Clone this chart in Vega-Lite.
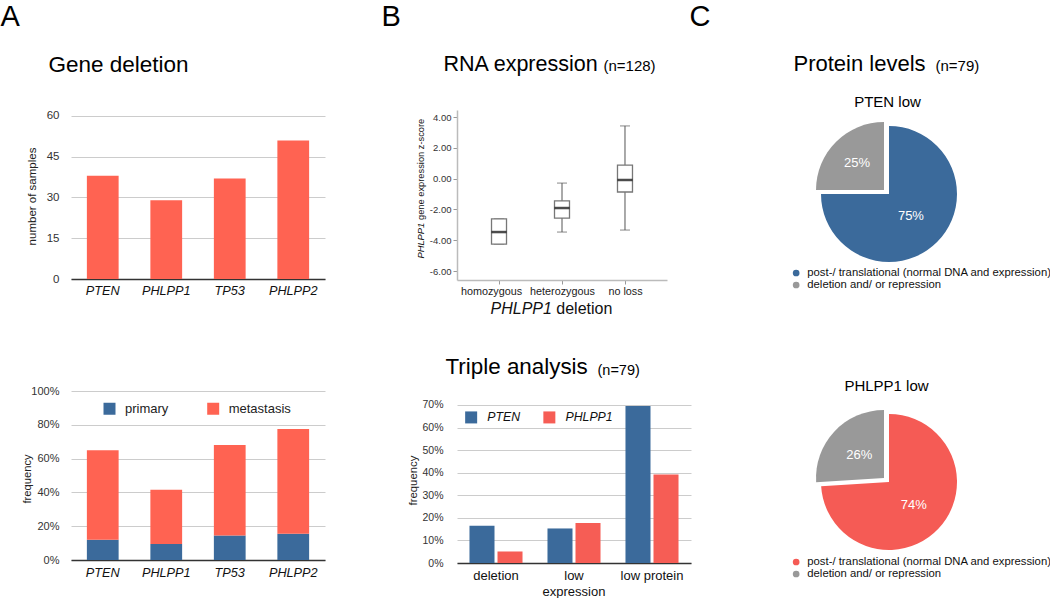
{
  "$schema": "https://vega.github.io/schema/vega-lite/v6.json",
  "autosize": "none",
  "padding": {"left": 71, "top": 110, "right": 979, "bottom": 488},
  "background": "white",
  "config": {
    "font": "Liberation Sans",
    "view": {"stroke": null},
    "axis": {"titleFontWeight": "normal", "titleLimit": 1000, "labelLimit": 300},
    "legend": {"labelLimit": 400}
  },
  "columns": 3,
  "spacing": {"row": 111, "column": 132},
  "bounds": "flush",
  "align": "each",
  "resolve": {
    "scale": {"color": "independent", "theta": "independent", "opacity": "independent"},
    "legend": {"color": "independent"}
  },
  "concat": [
    {
      "width": 254,
      "height": 169,
      "data": {"values": [
        {"gene": "PTEN", "n": 38},
        {"gene": "PHLPP1", "n": 29},
        {"gene": "TP53", "n": 37},
        {"gene": "PHLPP2", "n": 51}
      ]},
      "resolve": {"axis": {"x": "independent", "y": "independent"}},
      "layer": [
        {
          "mark": {"type": "bar", "color": "#FF6352"},
          "encoding": {
            "x": {"field": "gene", "type": "nominal", "sort": null,
              "scale": {"paddingInner": 0.5, "paddingOuter": 0.25},
              "axis": {"orient": "bottom", "title": null, "labelAngle": 0, "labelFontStyle": "italic", "labelFontSize": 12.7, "labelColor": "#111", "labelPadding": 5.5, "ticks": false, "tickSize": 0, "domain": true, "domainColor": "#333", "domainWidth": 1.5, "grid": false}},
            "y": {"field": "n", "type": "quantitative",
              "scale": {"domain": [0, 62.2], "nice": false},
              "axis": {"orient": "left", "values": [0, 15, 30, 45, 60], "grid": true, "gridColor": "#cccccc", "domain": false, "ticks": false, "tickSize": 0, "labelPadding": 12, "labelFontSize": 11.5, "labelColor": "#333", "title": "number of samples", "titleFontSize": 11.5, "titleColor": "#222", "titleX": -39, "titleY": 86, "titleAngle": -90, "titleAlign": "center", "titleBaseline": "middle"}}
          }
        },
        {
          "mark": {"type": "bar", "opacity": 0},
          "encoding": {
            "x": {"field": "gene", "type": "nominal", "sort": null,
              "axis": {"orient": "top", "title": "A", "titleX": -71, "titleY": -85, "titleFontSize": 29, "titleAngle": 0, "titleAlign": "left", "titleBaseline": "alphabetic", "titleColor": "#000", "labels": false, "ticks": false, "domain": false, "grid": false}},
            "y": {"field": "n", "type": "quantitative",
              "axis": {"orient": "right", "title": "Gene deletion", "titleX": -277, "titleY": -39, "titleFontSize": 22.5, "titleAngle": 0, "titleAlign": "left", "titleBaseline": "alphabetic", "titleColor": "#000", "labels": false, "ticks": false, "domain": false, "grid": false}}
          }
        }
      ]
    },
    {
      "width": 210,
      "height": 170,
      "data": {"values": [
        {"g": "homozygous", "lo": -4.25, "q1": -4.25, "med": -3.47, "q3": -2.62, "hi": -2.62},
        {"g": "heterozygous", "lo": -3.47, "q1": -2.56, "med": -1.91, "q3": -1.45, "hi": -0.29},
        {"g": "no loss", "lo": -3.34, "q1": -0.87, "med": -0.09, "q3": 0.88, "hi": 3.42}
      ]},
      "resolve": {"axis": {"x": "independent", "y": "independent"}},
      "layer": [
        {
          "mark": {"type": "rule", "color": "#555", "strokeWidth": 1},
          "encoding": {
            "x": {"field": "g", "type": "nominal", "sort": null,
              "scale": {"type": "point", "padding": 0.667},
              "axis": {"orient": "bottom", "labelAngle": 0, "labelFontSize": 10.8, "labelColor": "#222", "ticks": true, "tickSize": 4, "tickColor": "#999", "labelPadding": 1, "domain": true, "domainColor": "#bbb", "domainWidth": 1.5, "grid": false,
                "labelOffset": {"condition": {"test": "datum.value === 'homozygous'", "value": -8}, "value": 0},
                "title": "PHLPP1", "titleFontStyle": "italic", "titleFontSize": 16, "titleColor": "#111", "titleX": 33, "titleY": 33, "titleAngle": 0, "titleAlign": "left", "titleBaseline": "alphabetic"}},
            "y": {"field": "lo", "type": "quantitative",
              "scale": {"domain": [-6.584, 4.455], "nice": false, "zero": false},
              "axis": {"orient": "left", "values": [-6, -4, -2, 0, 2, 4], "format": ".2f", "labelExpr": "replace(datum.label, '−', '-')", "labelFontSize": 9.5, "labelColor": "#333", "ticks": true, "tickSize": 4, "tickColor": "#999", "labelPadding": 2, "domain": true, "domainColor": "#bbb", "domainWidth": 1.5, "grid": false,
                "title": "PHLPP1", "titleFontStyle": "italic", "titleFontSize": 9.3, "titleColor": "#111", "titleX": -37, "titleY": 148, "titleAngle": -90, "titleAlign": "left", "titleBaseline": "middle"}},
            "y2": {"field": "hi"}
          }
        },
        {
          "mark": {"type": "tick", "size": 10, "thickness": 1, "color": "#555"},
          "encoding": {
            "x": {"field": "g", "type": "nominal", "sort": null,
              "axis": {"orient": "bottom", "title": "deletion", "titleX": 98.8, "titleY": 33, "titleFontSize": 16, "titleAngle": 0, "titleAlign": "left", "titleBaseline": "alphabetic", "titleColor": "#111", "labels": false, "ticks": false, "domain": false, "grid": false}},
            "y": {"field": "lo", "type": "quantitative",
              "axis": {"orient": "right", "title": "B", "titleX": -286, "titleY": -85, "titleFontSize": 29, "titleAngle": 0, "titleAlign": "left", "titleBaseline": "alphabetic", "titleColor": "#000", "labels": false, "ticks": false, "domain": false, "grid": false}}
          }
        },
        {
          "mark": {"type": "tick", "size": 10, "thickness": 1, "color": "#555"},
          "encoding": {
            "x": {"field": "g", "type": "nominal", "sort": null,
              "axis": {"orient": "top", "title": "RNA expression", "titleX": -14, "titleY": -40, "titleFontSize": 21.5, "titleAngle": 0, "titleAlign": "left", "titleBaseline": "alphabetic", "titleColor": "#000", "labels": false, "ticks": false, "domain": false, "grid": false}},
            "y": {"field": "hi", "type": "quantitative",
              "axis": {"orient": "right", "title": "(n=128)", "titleX": -64, "titleY": -40, "titleFontSize": 15, "titleAngle": 0, "titleAlign": "left", "titleBaseline": "alphabetic", "titleColor": "#000", "labels": false, "ticks": false, "domain": false, "grid": false}}
          }
        },
        {
          "mark": {"type": "bar", "width": 15, "fill": "white", "stroke": "#777", "strokeWidth": 1.3},
          "encoding": {
            "x": {"field": "g", "type": "nominal", "sort": null, "axis": null},
            "y": {"field": "q1", "type": "quantitative",
              "axis": {"orient": "left", "title": "gene expression z-score", "titleX": -37, "titleY": 109.5, "titleFontSize": 9.3, "titleAngle": -90, "titleAlign": "left", "titleBaseline": "middle", "titleColor": "#111", "labels": false, "ticks": false, "domain": false, "grid": false}},
            "y2": {"field": "q3"}
          }
        },
        {
          "mark": {"type": "tick", "size": 15, "thickness": 2.5, "color": "#000"},
          "encoding": {
            "x": {"field": "g", "type": "nominal", "sort": null, "axis": null},
            "y": {"field": "med", "type": "quantitative", "axis": null}
          }
        }
      ]
    },
    {
      "width": 132,
      "height": 168,
      "data": {"values": [
        {"cat": "post-/ translational (normal DNA and expression)", "pct": 75, "lab": "75%"},
        {"cat": "deletion and/ or repression", "pct": 25, "lab": "25%"}
      ]},
      "resolve": {"axis": {"x": "independent", "y": "independent"}},
      "layer": [
        {
          "mark": {"type": "arc", "radius": 68},
          "encoding": {
            "theta": {"field": "pct", "type": "quantitative", "stack": true},
            "order": {"field": "pct", "sort": "descending"},
            "color": {"field": "cat", "type": "nominal",
              "scale": {"domain": ["post-/ translational (normal DNA and expression)", "deletion and/ or repression"], "range": ["#3B6A9B", "#999999"]},
              "legend": {"orient": "none", "legendX": -32.5, "legendY": 159, "title": null, "symbolType": "circle", "symbolSize": 45, "symbolStrokeWidth": 0, "labelFontSize": 11.3, "labelColor": "#111", "clipHeight": 8, "rowPadding": 0, "labelOffset": 5.5, "padding": 0, "labelLimit": 400}},
            "opacity": {"condition": {"test": "datum.pct < 50", "value": 0}, "value": 1}
          }
        },
        {
          "mark": {"type": "arc", "radius": 68, "xOffset": -5, "yOffset": -4},
          "encoding": {
            "theta": {"field": "pct", "type": "quantitative", "stack": true},
            "order": {"field": "pct", "sort": "descending"},
            "color": {"field": "cat", "type": "nominal", "legend": null},
            "opacity": {"condition": {"test": "datum.pct < 50", "value": 1}, "value": 0}
          }
        },
        {
          "mark": {"type": "text", "radius": 31, "color": "white", "fontSize": 13},
          "encoding": {
            "theta": {"field": "pct", "type": "quantitative", "stack": true},
            "order": {"field": "pct", "sort": "descending"},
            "text": {"field": "lab"},
            "opacity": {"condition": {"test": "datum.pct < 50", "value": 0}, "value": 1}
          }
        },
        {
          "mark": {"type": "text", "radius": 38, "color": "white", "fontSize": 13, "xOffset": -5, "yOffset": -4},
          "encoding": {
            "theta": {"field": "pct", "type": "quantitative", "stack": true},
            "order": {"field": "pct", "sort": "descending"},
            "text": {"field": "lab"},
            "opacity": {"condition": {"test": "datum.pct < 50", "value": 1}, "value": 0}
          }
        },
        {
          "mark": {"type": "point", "opacity": 0},
          "encoding": {
            "x": {"field": "cat", "type": "nominal",
              "axis": {"orient": "top", "title": "C", "titleX": -134, "titleY": -85, "titleFontSize": 29, "titleAngle": 0, "titleAlign": "left", "titleBaseline": "alphabetic", "titleColor": "#000", "labels": false, "ticks": false, "domain": false, "grid": false}},
            "y": {"field": "lab", "type": "nominal",
              "axis": {"orient": "right", "title": "Protein levels", "titleX": -162, "titleY": -40, "titleFontSize": 22, "titleAngle": 0, "titleAlign": "left", "titleBaseline": "alphabetic", "titleColor": "#000", "labels": false, "ticks": false, "domain": false, "grid": false}}
          }
        },
        {
          "mark": {"type": "point", "opacity": 0},
          "encoding": {
            "x": {"field": "cat", "type": "nominal",
              "axis": {"orient": "top", "title": "(n=79)", "titleX": 112, "titleY": -40, "titleFontSize": 15, "titleAngle": 0, "titleAlign": "left", "titleBaseline": "alphabetic", "titleColor": "#000", "labels": false, "ticks": false, "domain": false, "grid": false}},
            "y": {"field": "lab", "type": "nominal",
              "axis": {"orient": "right", "title": "PTEN low", "titleX": -68, "titleY": -9, "titleFontSize": 15, "titleAngle": 0, "titleAlign": "center", "titleBaseline": "middle", "titleColor": "#000", "labels": false, "ticks": false, "domain": false, "grid": false}}
          }
        }
      ]
    },
    {
      "width": 254,
      "height": 169,
      "data": {"values": [
        {"gene": "PTEN", "type": "primary", "v": 0.12},
        {"gene": "PTEN", "type": "metastasis", "v": 0.53},
        {"gene": "PHLPP1", "type": "primary", "v": 0.095},
        {"gene": "PHLPP1", "type": "metastasis", "v": 0.32},
        {"gene": "TP53", "type": "primary", "v": 0.145},
        {"gene": "TP53", "type": "metastasis", "v": 0.535},
        {"gene": "PHLPP2", "type": "primary", "v": 0.155},
        {"gene": "PHLPP2", "type": "metastasis", "v": 0.62}
      ]},
      "mark": {"type": "bar"},
      "encoding": {
        "x": {"field": "gene", "type": "nominal", "sort": null,
          "scale": {"paddingInner": 0.5, "paddingOuter": 0.25},
          "axis": {"orient": "bottom", "title": null, "labelAngle": 0, "labelFontStyle": "italic", "labelFontSize": 12.7, "labelColor": "#111", "labelPadding": 6, "ticks": false, "tickSize": 0, "domain": true, "domainColor": "#333", "domainWidth": 1.5, "grid": false}},
        "y": {"field": "v", "type": "quantitative", "stack": true,
          "scale": {"domain": [0, 1], "nice": false},
          "axis": {"orient": "left", "values": [0, 0.2, 0.4, 0.6, 0.8, 1], "format": ".0%", "grid": true, "gridColor": "#cccccc", "domain": false, "ticks": false, "tickSize": 0, "labelPadding": 12, "labelFontSize": 11, "labelColor": "#333", "title": "frequency", "titleFontSize": 11.2, "titleColor": "#222", "titleX": -44, "titleY": 87.5, "titleAngle": -90, "titleAlign": "center", "titleBaseline": "middle"}},
        "color": {"field": "type", "type": "nominal",
          "scale": {"domain": ["primary", "metastasis"], "range": ["#3B6A9B", "#FF6352"]},
          "legend": {"orient": "none", "direction": "horizontal", "legendX": 32, "legendY": 11, "title": null, "symbolType": "square", "symbolSize": 144, "symbolStrokeWidth": 0, "labelFontSize": 13, "labelColor": "#222", "labelOffset": 9, "columnPadding": 37.7, "padding": 0}},
        "order": {"field": "type", "sort": "descending"}
      }
    },
    {
      "width": 234,
      "height": 172,
      "data": {"values": [
        {"cat": "deletion", "gene": "PTEN", "v": 0.165},
        {"cat": "deletion", "gene": "PHLPP1", "v": 0.051},
        {"cat": "low expression", "gene": "PTEN", "v": 0.153},
        {"cat": "low expression", "gene": "PHLPP1", "v": 0.177},
        {"cat": "low protein", "gene": "PTEN", "v": 0.696},
        {"cat": "low protein", "gene": "PHLPP1", "v": 0.392}
      ]},
      "resolve": {"axis": {"x": "independent", "y": "independent"}},
      "layer": [
        {
          "mark": {"type": "bar"},
          "encoding": {
            "x": {"field": "cat", "type": "nominal", "sort": null,
              "scale": {"paddingInner": 0.32, "paddingOuter": 0.16},
              "axis": {"orient": "bottom", "title": null, "labelAngle": 0, "labelFontSize": 13, "labelColor": "#111", "labelPadding": 6.4, "labelLineHeight": 16, "labelExpr": "datum.label == 'low expression' ? ['low', 'expression'] : datum.label", "ticks": false, "tickSize": 0, "domain": true, "domainColor": "#333", "domainWidth": 1.5, "grid": false}},
            "xOffset": {"field": "gene", "type": "nominal", "sort": null,
              "scale": {"paddingInner": 0.107, "paddingOuter": 0}},
            "y": {"field": "v", "type": "quantitative",
              "scale": {"domain": [0, 0.762], "nice": false},
              "axis": {"orient": "left", "values": [0, 0.1, 0.2, 0.3, 0.4, 0.5, 0.6, 0.7], "format": ".0%", "grid": true, "gridColor": "#cccccc", "domain": false, "ticks": false, "tickSize": 0, "labelPadding": 14, "labelFontSize": 10.5, "labelColor": "#333", "title": "frequency", "titleFontSize": 11.4, "titleColor": "#222", "titleX": -43.5, "titleY": 89, "titleAngle": -90, "titleAlign": "center", "titleBaseline": "middle"}},
            "color": {"field": "gene", "type": "nominal",
              "scale": {"domain": ["PTEN", "PHLPP1"], "range": ["#3B6A9B", "#F65D55"]},
              "legend": {"orient": "none", "direction": "horizontal", "legendX": 8, "legendY": 20, "title": null, "symbolType": "square", "symbolSize": 144, "symbolStrokeWidth": 0, "labelFontSize": 12.3, "labelFontStyle": "italic", "labelColor": "#111", "labelOffset": 10, "columnPadding": 22.2, "padding": 0}}
          }
        },
        {
          "mark": {"type": "bar", "opacity": 0},
          "encoding": {
            "x": {"field": "cat", "type": "nominal", "sort": null,
              "axis": {"orient": "top", "title": "Triple analysis", "titleX": -12, "titleY": -18, "titleFontSize": 22.4, "titleAngle": 0, "titleAlign": "left", "titleBaseline": "alphabetic", "titleColor": "#000", "labels": false, "ticks": false, "domain": false, "grid": false}},
            "y": {"field": "v", "type": "quantitative",
              "axis": {"orient": "right", "title": "(n=79)", "titleX": -94, "titleY": -17, "titleFontSize": 14.5, "titleAngle": 0, "titleAlign": "left", "titleBaseline": "alphabetic", "titleColor": "#000", "labels": false, "ticks": false, "domain": false, "grid": false}}
          }
        }
      ]
    },
    {
      "width": 132,
      "height": 182,
      "data": {"values": [
        {"cat": "post-/ translational (normal DNA and expression)", "pct": 74, "lab": "74%"},
        {"cat": "deletion and/ or repression", "pct": 26, "lab": "26%"}
      ]},
      "resolve": {"axis": {"x": "independent", "y": "independent"}},
      "layer": [
        {
          "mark": {"type": "arc", "radius": 68},
          "encoding": {
            "theta": {"field": "pct", "type": "quantitative", "stack": true},
            "order": {"field": "pct", "sort": "descending"},
            "color": {"field": "cat", "type": "nominal",
              "scale": {"domain": ["post-/ translational (normal DNA and expression)", "deletion and/ or repression"], "range": ["#F55B55", "#999999"]},
              "legend": {"orient": "none", "legendX": -32.5, "legendY": 167, "title": null, "symbolType": "circle", "symbolSize": 45, "symbolStrokeWidth": 0, "labelFontSize": 11.3, "labelColor": "#111", "clipHeight": 8, "rowPadding": 0, "labelOffset": 5.5, "padding": 0, "labelLimit": 400}},
            "opacity": {"condition": {"test": "datum.pct < 50", "value": 0}, "value": 1}
          }
        },
        {
          "mark": {"type": "arc", "radius": 68, "xOffset": -5, "yOffset": -4},
          "encoding": {
            "theta": {"field": "pct", "type": "quantitative", "stack": true},
            "order": {"field": "pct", "sort": "descending"},
            "color": {"field": "cat", "type": "nominal", "legend": null},
            "opacity": {"condition": {"test": "datum.pct < 50", "value": 1}, "value": 0}
          }
        },
        {
          "mark": {"type": "text", "radius": 34, "color": "white", "fontSize": 13},
          "encoding": {
            "theta": {"field": "pct", "type": "quantitative", "stack": true},
            "order": {"field": "pct", "sort": "descending"},
            "text": {"field": "lab"},
            "opacity": {"condition": {"test": "datum.pct < 50", "value": 0}, "value": 1}
          }
        },
        {
          "mark": {"type": "text", "radius": 34, "color": "white", "fontSize": 13, "xOffset": -5, "yOffset": -4},
          "encoding": {
            "theta": {"field": "pct", "type": "quantitative", "stack": true},
            "order": {"field": "pct", "sort": "descending"},
            "text": {"field": "lab"},
            "opacity": {"condition": {"test": "datum.pct < 50", "value": 1}, "value": 0}
          }
        },
        {
          "mark": {"type": "point", "opacity": 0},
          "encoding": {
            "x": {"field": "cat", "type": "nominal", "axis": null},
            "y": {"field": "lab", "type": "nominal",
              "axis": {"orient": "right", "title": "PHLPP1 low", "titleX": -69, "titleY": -6, "titleFontSize": 15, "titleAngle": 0, "titleAlign": "center", "titleBaseline": "middle", "titleColor": "#000", "labels": false, "ticks": false, "domain": false, "grid": false}}
          }
        }
      ]
    }
  ]
}
